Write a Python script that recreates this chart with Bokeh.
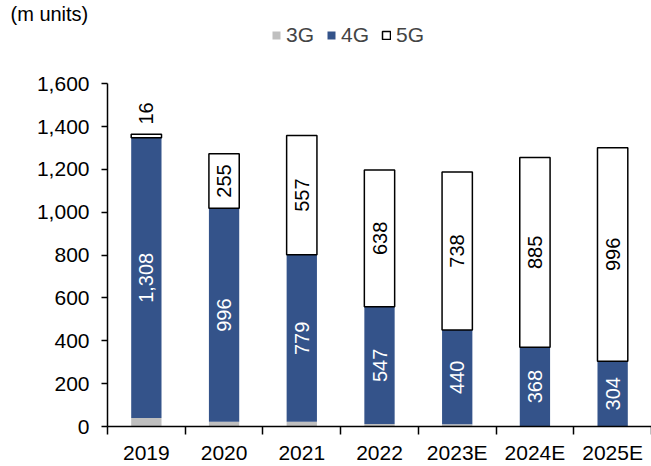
import math
from bokeh.plotting import figure
from bokeh.models import (ColumnDataSource, FixedTicker, Legend, LegendItem,
                          NumeralTickFormatter, Range1d)
from bokeh.core.properties import value
from bokeh.embed import file_html
from bokeh.resources import INLINE

years = ["2019", "2020", "2021", "2022", "2023E", "2024E", "2025E"]
g3 = [40, 22, 22, 12, 10, 2, 1]
g4 = [1308, 996, 779, 547, 440, 368, 304]
g5 = [16, 255, 557, 638, 738, 885, 996]
y_ticks = [0, 200, 400, 600, 800, 1000, 1200, 1400, 1600]
series_names = ["3G", "4G", "5G"]

C3 = "#BFBFBF"
C4 = "#34538A"
FONT = "Liberation Sans"
FS = "21px"

x = list(range(len(years)))
b4 = g3
t4 = [a + b for a, b in zip(g3, g4)]
t5 = [a + b for a, b in zip(t4, g5)]

src = ColumnDataSource(dict(x=x, g3=g3, b4=b4, t4=t4, t5=t5))

p = figure(width=651, height=466, x_range=Range1d(-0.5, 6.5), y_range=Range1d(0, 1876),
           output_backend="svg", toolbar_location=None,
           min_border_left=107, min_border_right=0, min_border_top=0, min_border_bottom=39)
p.outline_line_color = None
p.xgrid.visible = False
p.ygrid.visible = False

p.title.text = "(m units)"
p.title.align = "left"
p.title.offset = -97
p.title.standoff = 0
p.title.text_font = FONT
p.title.text_font_size = "20px"
p.title.text_font_style = "normal"
p.title.text_color = "black"

W = 0.39
r3 = p.vbar(x="x", bottom=0, top="g3", width=W, source=src, fill_color=C3, line_color=None)
r4 = p.vbar(x="x", bottom="b4", top="t4", width=W, source=src, fill_color=C4, line_color=None)
r5 = p.vbar(x="x", bottom="t4", top="t5", width=W, source=src, fill_color="white",
            line_color="black", line_width=1.5)

# labels
lx, ly, lt, lc, la = [], [], [], [], []
for i in x:
    lx.append(i); ly.append(g3[i] + g4[i] / 2); lt.append(f"{g4[i]:,}"); lc.append("white"); la.append("center")
    if g5[i] < 80:
        lx.append(i); ly.append(t5[i] + 45); lt.append(f"{g5[i]:,}"); lc.append("black"); la.append("left")
    else:
        lx.append(i); ly.append(t4[i] + g5[i] / 2); lt.append(f"{g5[i]:,}"); lc.append("black"); la.append("center")
lsrc = ColumnDataSource(dict(x=lx, y=ly, t=lt, c=lc, a=la))
p.text(x="x", y="y", text="t", source=lsrc, angle=math.pi / 2, text_color="c",
       text_align="a", text_baseline="middle", text_font=value(FONT), text_font_size="20px")

# axes
yax = p.yaxis[0]
yax.ticker = FixedTicker(ticks=y_ticks)
yax.formatter = NumeralTickFormatter(format="0,0")
yax.bounds = (0, 1600)
yax.major_tick_out = 6
yax.major_tick_in = 0
yax.minor_tick_out = 0
yax.minor_tick_in = 0
yax.axis_line_width = 1.5
yax.major_tick_line_width = 1.5
yax.major_label_standoff = 12
yax.major_label_text_font = FONT
yax.major_label_text_font_size = FS
yax.major_label_text_color = "black"

xax = p.xaxis[0]
xax.ticker = FixedTicker(ticks=x, minor_ticks=[i - 0.5 for i in range(len(years) + 1)])
xax.major_label_overrides = {i: years[i] for i in x}
xax.major_tick_out = 0
xax.major_tick_in = 0
xax.minor_tick_out = 8
xax.minor_tick_in = 0
xax.minor_tick_line_width = 1.5
xax.minor_tick_line_color = "black"
xax.axis_line_width = 1.5
xax.major_label_standoff = 6
xax.major_label_text_font = FONT
xax.major_label_text_font_size = FS
xax.major_label_text_color = "black"

legend = Legend(items=[LegendItem(label=series_names[0], renderers=[r3]),
                       LegendItem(label=series_names[1], renderers=[r4]),
                       LegendItem(label=series_names[2], renderers=[r5])],
                orientation="horizontal", location=(164, 379),
                glyph_width=10, glyph_height=10, label_standoff=5, spacing=12,
                padding=0, margin=0, border_line_color=None, background_fill_alpha=0,
                label_text_font=FONT, label_text_font_size=FS)
p.add_layout(legend)

open("out.html", "w").write(file_html(p, INLINE))
